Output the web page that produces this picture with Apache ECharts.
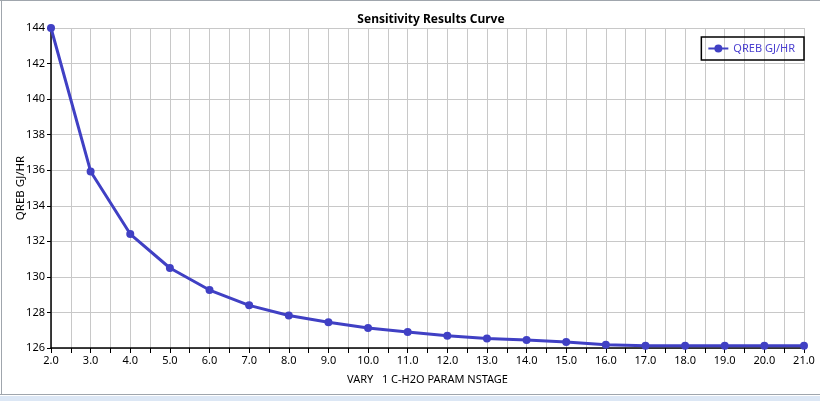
<!DOCTYPE html>
<html>
<head>
<meta charset="utf-8">
<script src="https://cdn.jsdelivr.net/npm/echarts@6/dist/echarts.min.js"></script>
<style>
  html, body { margin: 0; padding: 0; background: #fff; }
  #chart { width: 820px; height: 401px; }
</style>
</head>
<body>
<div id="chart"></div>
<script>
  // 数据
  var stages = [2, 3, 4, 5, 6, 7, 8, 9, 10, 11, 12, 13, 14, 15, 16, 17, 18, 19, 20, 21];
  var qreb = [144.0, 135.93, 132.41, 130.5, 129.26, 128.4, 127.83, 127.45, 127.12, 126.9,
              126.69, 126.54, 126.45, 126.34, 126.18, 126.12, 126.12, 126.12, 126.12, 126.12];
  var seriesName = 'QREB GJ/HR';

  var chart = echarts.init(document.getElementById('chart'));
  var font = '"Noto Sans", "DejaVu Sans", sans-serif';
  var blue = '#4040c4';

  chart.setOption({
    animation: false,
    textStyle: { fontFamily: font },
    title: {
      text: 'Sensitivity Results Curve',
      left: 426, top: 9, textAlign: 'center',
      textStyle: { fontSize: 12, fontWeight: 'bold', color: '#000', fontFamily: font }
    },
    legend: {
      right: 16, top: 37,
      itemWidth: 20, itemHeight: 10,
      padding: [6, 9, 6, 6],
      borderColor: '#000', borderWidth: 1.5, borderRadius: 0,
      textStyle: { color: '#4a3fd0', fontSize: 11 },
      data: [seriesName]
    },
    grid: { left: 51, right: 16, top: 28, bottom: 53 },
    xAxis: {
      type: 'value',
      min: 2, max: 21, interval: 1,
      name: 'VARY   1 C-H2O PARAM NSTAGE',
      nameLocation: 'middle', nameGap: 26,
      nameTextStyle: { color: '#000', fontSize: 11 },
      axisLine: { lineStyle: { color: '#000', width: 1.5 } },
      axisTick: { length: 5, lineStyle: { color: '#000' } },
      minorTick: { show: true, splitNumber: 2, length: 5, lineStyle: { color: '#000' } },
      axisLabel: { color: '#000', fontSize: 11, margin: 7,
        formatter: function (v) { return v.toFixed(1); } },
      splitLine: { show: true, lineStyle: { color: '#c8c8c8' } },
      minorSplitLine: { show: true, lineStyle: { color: '#c8c8c8' } }
    },
    yAxis: {
      type: 'value',
      min: 126, max: 144, interval: 2,
      name: 'QREB GJ/HR',
      nameLocation: 'middle', nameGap: 24, nameMoveOverlap: false,
      nameTextStyle: { color: '#000', fontSize: 11.5 },
      axisLine: { show: true, lineStyle: { color: '#000', width: 1.5 } },
      axisTick: { show: true, length: 4, lineStyle: { color: '#000' } },
      axisLabel: { color: '#000', fontSize: 11, margin: 6 },
      splitLine: { show: true, lineStyle: { color: '#c8c8c8' } }
    },
    series: [{
      name: seriesName,
      type: 'line',
      data: stages.map(function (s, i) { return [s, qreb[i]]; }),
      symbol: 'circle', symbolSize: 8,
      lineStyle: { color: blue, width: 3 },
      itemStyle: { color: blue }
    }],
    graphic: [
      { type: 'line', shape: { x1: 0, y1: 0.5, x2: 820, y2: 0.5 }, style: { stroke: '#a0a6ad', lineWidth: 1 } },
      { type: 'line', shape: { x1: 1.5, y1: 0, x2: 1.5, y2: 395 }, style: { stroke: '#a0a6ad', lineWidth: 1 } },
      { type: 'line', shape: { x1: 0, y1: 394.5, x2: 820, y2: 394.5 }, style: { stroke: '#a0a6ad', lineWidth: 1 } },
      { type: 'rect', shape: { x: 0, y: 396, width: 820, height: 5 }, style: { fill: '#dce7f5' } }
    ]
  });
</script>
</body>
</html>
